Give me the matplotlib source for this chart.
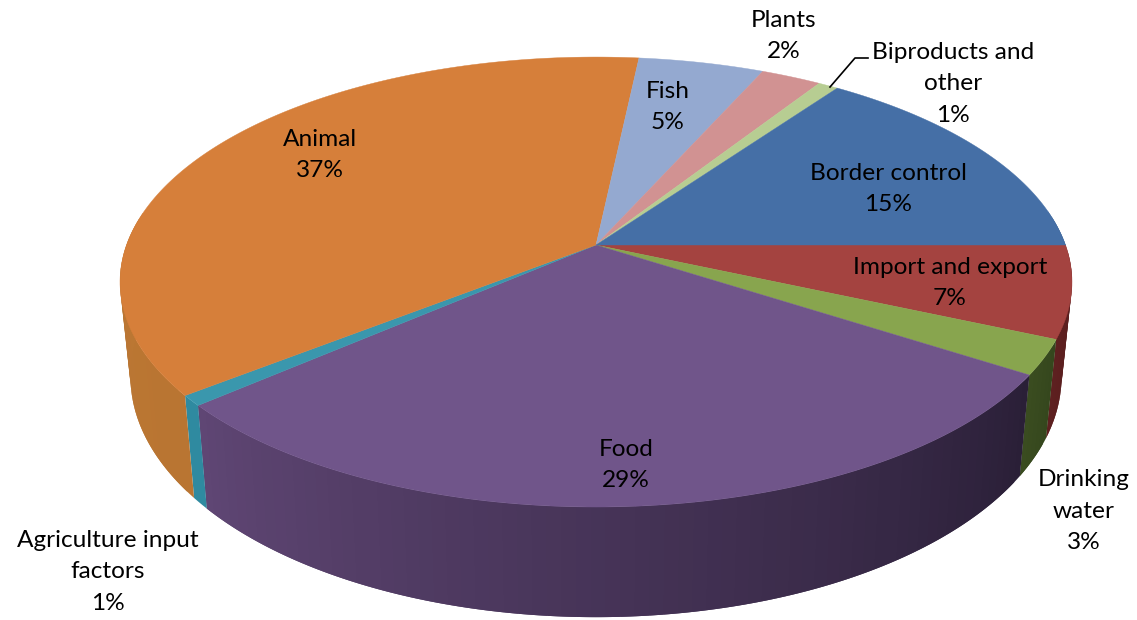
import numpy as np
import matplotlib
matplotlib.use("Agg")
import matplotlib.pyplot as plt
from matplotlib.colors import to_rgb
from matplotlib.patches import Polygon

# slices clockwise from the 3 o'clock position
slices = ["Import and export", "Drinking water", "Food", "Agriculture input factors",
          "Animal", "Fish", "Plants", "Biproducts and other", "Border control"]
values = [6.6, 2.5, 29.55, 0.75, 37.3, 5.0, 2.4, 0.8, 15.1]
top_colors = ["#a44340", "#88a54e", "#70558a", "#3a97ad", "#d67f3a",
              "#94a9d0", "#d19292", "#b7cd92", "#456fa6"]
side_left = ["#5e2020", "#3a4c20", "#5f4674", "#2f8aa0", "#c07b36",
             "#7a8db0", "#a87575", "#93a875", "#38598a"]
side_right = ["#561c1c", "#35461d", "#2a1f37", "#2f8aa0", "#b97532",
              "#7a8db0", "#a87575", "#93a875", "#38598a"]

labels = [("Import and export\n7%", 950, 283),
          ("Drinking\nwater\n3%", 1084, 511),
          ("Food\n29%", 626, 465),
          ("Agriculture input\nfactors\n1%", 108, 572),
          ("Animal\n37%", 320, 155),
          ("Fish\n5%", 668, 107),
          ("Plants\n2%", 784, 36),
          ("Biproducts and\nother\n1%", 953, 84),
          ("Border control\n15%", 888, 189)]

cx, cy = 596, 245
rx, ry = 469.5, 218.9
k = 0.1646
depth = 92
shrink = 0.978


def project(t, lower=False):
    # circle to screen with a bit of perspective, nearer points come out bigger
    u, v = np.cos(t), np.sin(t)
    den = 1 - k * v
    x = rx * u / den
    y = cy + ry * v / den
    if lower:
        return cx + x * shrink, y + depth / den
    return cx + x, y


plt.rcParams["font.family"] = ["Lato", "DejaVu Sans"]
fig = plt.figure(figsize=(11.37, 6.2), dpi=100)
ax = fig.add_axes([0, 0, 1, 1])
ax.set_xlim(0, 1137)
ax.set_ylim(620, 0)
ax.axis("off")

edges = np.radians(np.cumsum([0] + values) * 3.6)

# rim first, the tops get painted over it afterwards
for i in range(len(values)):
    a, b = edges[i], edges[i + 1]
    n = max(int(np.degrees(b - a) / 1.5), 1)
    steps = np.linspace(a, b, n + 1)
    c1 = np.array(to_rgb(side_right[i]))
    c2 = np.array(to_rgb(side_left[i]))
    for j in range(n):
        # each strip runs on under the next one so no seams show
        t1, t2 = steps[j], steps[min(j + 2, n)]
        if np.sin(t1) < -0.12 and np.sin(t2) < -0.12:
            continue
        col = c1 + (c2 - c1) * (j + 0.5) / n
        pts = [project(t) for t in np.linspace(t1, t2, 4)]
        pts += [project(t, True) for t in np.linspace(t2, t1, 4)]
        ax.add_patch(Polygon(pts, facecolor=col, edgecolor="none", zorder=2))

for i in range(len(values)):
    a, b = edges[i], edges[i + 1]
    steps = np.linspace(a, b, max(int(np.degrees(b - a)), 2) + 1)
    pts = [(cx, cy)] + [project(t) for t in steps]
    ax.add_patch(Polygon(pts, facecolor=top_colors[i], edgecolor=top_colors[i],
                         linewidth=0.3, zorder=3))

# leader for the small slice
ax.plot([830, 855, 868], [87, 58, 58], color="black", linewidth=1.2, zorder=4)

for text, x, y in labels:
    ax.text(x, y, text, ha="center", va="center", fontsize=17.6, color="black",
            linespacing=1.63, zorder=5)

fig.savefig("out.png", dpi=100)
